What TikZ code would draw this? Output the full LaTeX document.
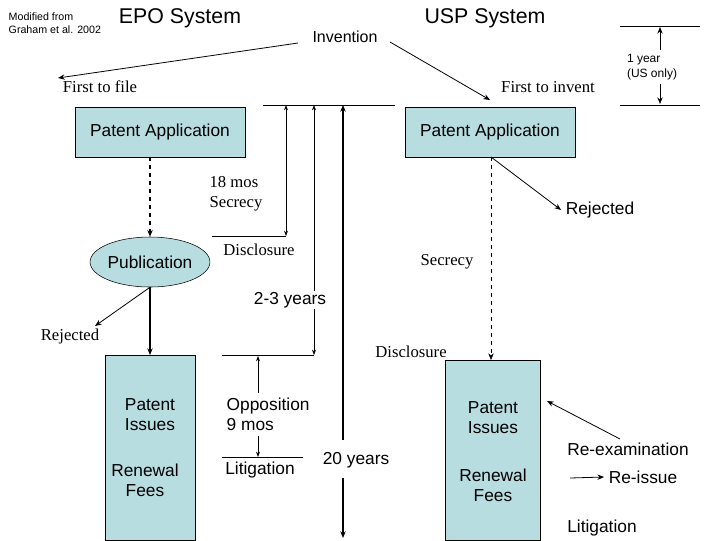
\documentclass[tikz,border=0pt]{standalone}
\usepackage{fontspec}
\setmainfont{Liberation Sans}
\newfontfamily\serif{Liberation Serif}
\usetikzlibrary{shapes.geometric,arrows.meta}
\definecolor{boxblue}{HTML}{B7DDE0}
\begin{document}
\begin{tikzpicture}[x=0.75pt,y=-0.75pt,
  box/.style={draw,fill=boxblue,inner sep=0pt},
  sans/.style={font=\fontsize{13}{15}\selectfont,align=center},
  ser/.style={font=\serif\fontsize{12.5}{15}\selectfont,align=left},
  arr/.style={-{Stealth[length=5pt,width=4pt]},semithick},
  dbl/.style={{Stealth[length=4pt,width=3pt]}-{Stealth[length=4pt,width=3pt]},semithick}]
\useasboundingbox (0,0) rectangle (720,540);
% titles
\node[anchor=west,font=\fontsize{8}{10}\selectfont,align=left] (mod) at (4,23) {Modified from\\Graham et al. 2002};
\node[font=\fontsize{16}{18}\selectfont] (epo) at (180,18) {EPO System};
\node[font=\fontsize{16}{18}\selectfont] (usp) at (485,18) {USP System};
\node[font=\fontsize{12}{14}\selectfont] (inv) at (345,37) {Invention};
\node[ser] (ftf) at (100,87) {First to file};
\node[ser] (fti) at (548,87) {First to invent};
\coordinate (invl) at (298,43);
\coordinate (invr) at (390,42);
\coordinate (ftfe) at (58,78);
\coordinate (ftie) at (490,100);
\draw[arr] (invl) -- (ftfe);
\draw[arr] (invr) -- (ftie);
% one year bracket
\coordinate (y1a) at (620,26); \coordinate (y1b) at (700,26);
\coordinate (y2a) at (620,105); \coordinate (y2b) at (700,105);
\draw (y1a) -- (y1b); \draw (y2a) -- (y2b);
\node[font=\fontsize{9}{11}\selectfont,align=left] (oney) at (652,67) {1 year\\(US only)};
\draw[-{Stealth[length=5pt,width=4pt]},semithick] (oney.north -| 660,0) -- (660,27);
\draw[-{Stealth[length=5pt,width=4pt]},semithick] (oney.south -| 660,0) -- (660,104);
% applications
\node[box,minimum width=170*0.75pt,minimum height=50*0.75pt,sans] (epa) at (160,132) {Patent Application};
\node[box,minimum width=170*0.75pt,minimum height=50*0.75pt,sans] (upa) at (490,132) {Patent Application};
% EPO path
\node[ellipse,box,minimum width=114*0.75pt,minimum height=50*0.75pt,sans] (pub) at (150,262) {Publication};
\draw[arr,thick,dashed] (epa.south -| pub.north) -- (pub.north);
\node[ser] (sec18) at (236,194) {18 mos\\Secrecy};
\node[ser] (disc1) at (259,250) {Disclosure};
\node[ser] (rej1) at (70,336) {Rejected};
\coordinate (rej1e) at (95,326);
\draw[arr] (pub.south) -- (rej1e);
\node[box,minimum width=90*0.75pt,minimum height=185*0.75pt,anchor=north] (ebox) at (150,355) {};
\draw[arr,thick] (pub.south) -- (ebox.north);
\node[sans] (epi) at (150,415) {Patent\\Issues};
\node[sans] (erf) at (145,480) {Renewal\\Fees};
% time lines
\coordinate (t0a) at (263,105); \coordinate (t0b) at (395,105);
\draw (t0a) -- (t0b);
\coordinate (t1a) at (212,236); \coordinate (t1b) at (286,236);
\draw (t1a) -- (t1b);
\draw[dbl] (286,105) -- (t1b);
\node[font=\fontsize{13}{15}\selectfont,fill=white,inner sep=1pt] (y23) at (290,300) {2-3 years};
\coordinate (t2a) at (222,355); \coordinate (t2b) at (314,355);
\draw (t2a) -- (t2b);
\draw[{Stealth[length=4pt,width=3pt]}-] (314,105) -- (y23.north -| 314,0);
\draw[-{Stealth[length=4pt,width=3pt]}] (y23.south -| 314,0) -- (t2b);
\node[sans] (y20) at (356,460) {20 years};
\draw[{Stealth[length=5pt,width=4pt]}-,thick] (343,105) -- (343,440);
\draw[-{Stealth[length=5pt,width=4pt]},thick] (343,478) -- (343,538);
\node[font=\fontsize{13}{15}\selectfont,align=left,anchor=west] (opp) at (222,414) {Opposition\\9 mos};
\coordinate (t3a) at (222,457); \coordinate (t3b) at (303,457);
\draw (t3a) -- (t3b);
\draw[{Stealth[length=4pt,width=3pt]}-,semithick] (258,356) -- (258,393);
\draw[-{Stealth[length=4pt,width=3pt]},semithick] (258,436) -- (258,457);
\node[sans] (lit1) at (260,470) {Litigation};
% USP path
\node[box,minimum width=95*0.75pt,minimum height=180*0.75pt,anchor=north] (ubox) at (493,360) {};
\draw[arr,dashed,thin] (491,157) -- (491,360);
\node[ser] (sec2) at (447,262) {Secrecy};
\node[ser] (disc2) at (411,352) {Disclosure};
\node[sans] (rej2) at (600,210) {Rejected};
\draw[arr] (491,157) -- (rej2.west);
\node[sans] (upi) at (493,418) {Patent\\Issues};
\node[sans] (urf) at (493,485) {Renewal\\Fees};
\node[sans] (reex) at (628,449) {Re-examination};
\draw[arr] (620,439) -- (547,401);
\node[sans] (reis) at (643,477) {Re-issue};
\coordinate (reisa) at (570,478);
\draw[arr] (reisa) -- (reis.west);
\node[sans] (lit2) at (602,528) {Litigation};
\end{tikzpicture}
\end{document}
